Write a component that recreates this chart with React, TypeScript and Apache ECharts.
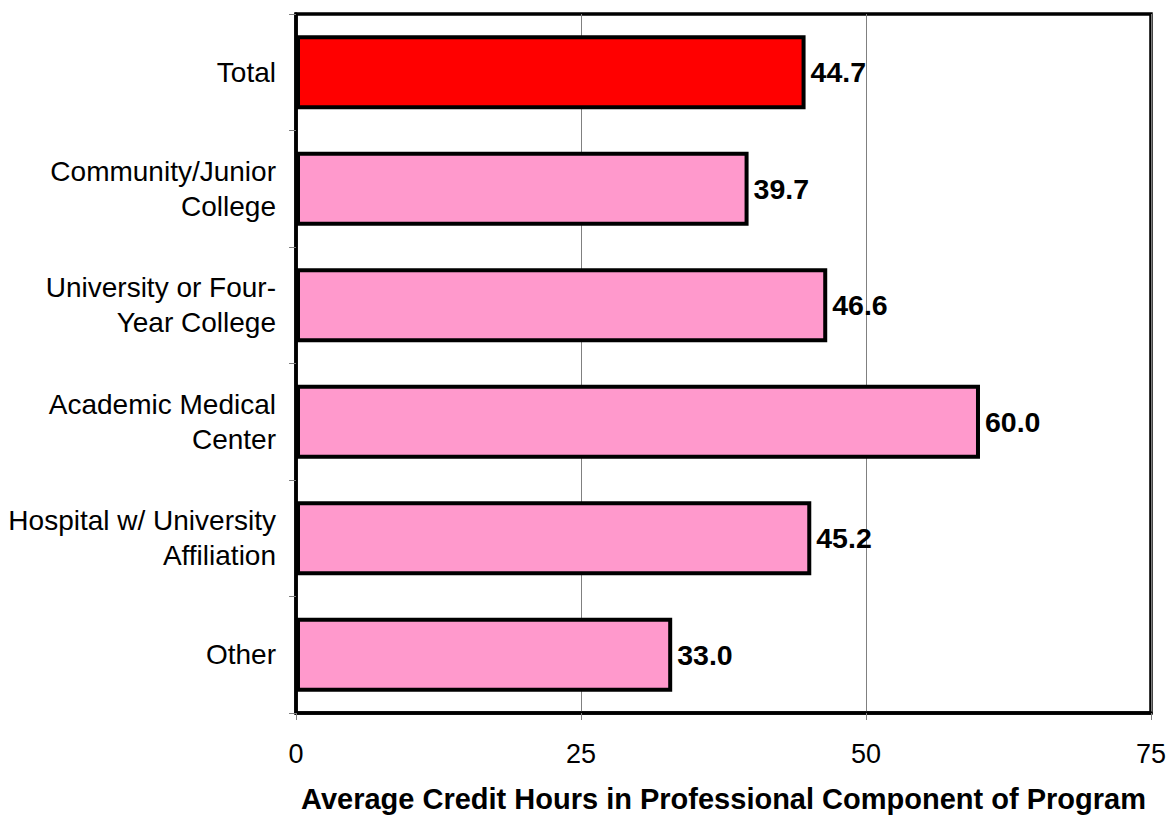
import React, { useEffect, useRef } from "react";
import * as echarts from "echarts";

const categories = [
  "Total",
  "Community/Junior\nCollege",
  "University or Four-\nYear College",
  "Academic Medical\nCenter",
  "Hospital w/ University\nAffiliation",
  "Other",
];
const values = [44.7, 39.7, 46.6, 60.0, 45.2, 33.0];
const barColors = ["#FF0000", "#FF99CC", "#FF99CC", "#FF99CC", "#FF99CC", "#FF99CC"];
const xTicks = { min: 0, max: 75, interval: 25 };
const axisTitle = "Average Credit Hours in Professional Component of Program";

export default function App() {
  const ref = useRef<HTMLDivElement>(null);
  useEffect(() => {
    if (!ref.current) return;
    const chart = echarts.init(ref.current, undefined, { renderer: "svg" });
    const font = "Liberation Sans, Arial, sans-serif";
    chart.setOption({
      animation: false,
      textStyle: { fontFamily: font },
      grid: {
        left: 296,
        top: 14,
        right: 18,
        bottom: 101,
        show: true,
        borderColor: "#000",
        borderWidth: 3.5,
        backgroundColor: "transparent",
      },
      xAxis: {
        type: "value",
        min: xTicks.min,
        max: xTicks.max,
        interval: xTicks.interval,
        name: axisTitle,
        nameLocation: "middle",
        nameGap: 71,
        nameTextStyle: { fontSize: 29, fontWeight: "bold", color: "#000", fontFamily: font },
        axisLine: { show: true, lineStyle: { color: "#000", width: 3.5 } },
        axisTick: { show: true, length: 7, lineStyle: { color: "#808080", width: 1 } },
        axisLabel: { fontSize: 27, color: "#000", margin: 27, fontFamily: font },
        splitLine: { show: true, lineStyle: { color: "#808080", width: 1 } },
      },
      yAxis: {
        type: "category",
        data: categories,
        inverse: true,
        axisLine: { show: true, lineStyle: { color: "#000", width: 3.5 } },
        axisTick: { show: true, length: 7, lineStyle: { color: "#808080", width: 1 } },
        axisLabel: {
          fontSize: 28,
          color: "#000",
          margin: 20,
          lineHeight: 35,
          align: "right",
          fontFamily: font,
        },
        splitLine: { show: false },
      },
      series: [
        {
          type: "bar",
          data: values.map((v, i) => ({
            value: v,
            itemStyle: { color: barColors[i] },
          })),
          barWidth: 74,
          itemStyle: { borderColor: "#000", borderWidth: 4 },
          label: {
            show: true,
            position: "right",
            distance: 5,
            formatter: (p: any) => Number(p.value).toFixed(1),
            fontSize: 28.5,
            fontWeight: "bold",
            color: "#000",
            fontFamily: font,
          },
        },
      ],
    });
    return () => chart.dispose();
  }, []);
  return <div ref={ref} style={{ width: 1169, height: 818, position: "absolute", left: 0, top: 0 }} />;
}
